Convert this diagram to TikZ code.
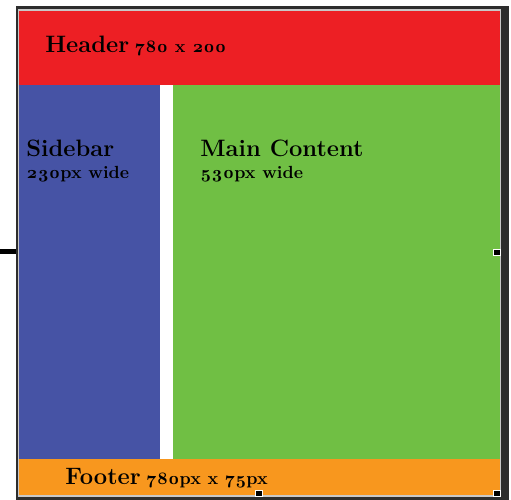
\documentclass[tikz,border=0pt]{standalone}
\usepackage{fontspec}
\setmainfont{Latin Modern Roman}[Numbers=OldStyle]
\definecolor{frame}{RGB}{45,45,45}
\definecolor{rim}{RGB}{200,200,200}
\definecolor{hdr}{RGB}{237,31,36}
\definecolor{side}{RGB}{70,83,165}
\definecolor{main}{RGB}{112,191,68}
\definecolor{foot}{RGB}{248,151,30}
\newcommand{\ttl}[1]{{\fontsize{13.5}{15}\selectfont\bfseries #1}}
\newcommand{\sub}[1]{{\fontsize{10}{12}\selectfont\bfseries #1}}

\begin{document}
\begin{tikzpicture}[x=0.02cm,y=-0.02cm]
\tikzset{lbl/.style={anchor=base west,inner sep=0pt},
  handle/.style={draw=white,fill=black,line width=0.4pt,minimum size=0.13cm,inner sep=0pt}}
      \useasboundingbox (0,0) rectangle (511,500);
      \fill[white] (0,0) rectangle (511,500);
      \fill[frame] (16,6) rectangle (509,500);
      \fill[rim] (18,9) rectangle (501,497);
      \fill[hdr] (19,11) rectangle (500,85);
      \fill[side] (19,85) rectangle (160,459);
      \fill[white] (160,85) rectangle (173,459);
      \fill[main] (173,85) rectangle (500,459);
      \fill[foot] (19,459) rectangle (500,495);
      \fill[black] (0,249) rectangle (16,254);
      \node[lbl](H) at (45,53) {\ttl{Header} \sub{780 x 200}};
      \node[lbl](S) at (26,157) {\ttl{Sidebar}};
      \node[lbl](SW) at (26,179) {\sub{230px wide}};
      \node[lbl](M) at (200,157) {\ttl{Main Content}};
      \node[lbl](MW) at (200,179) {\sub{530px wide}};
      \node[lbl](F) at (65,484) {\ttl{Footer} \sub{780px x 75px}};
      \node[handle](hR) at (497,252.5) {};
      \node[handle](hB) at (259,493.5) {};
      \node[handle](hBR) at (497,493.5) {};
    \end{tikzpicture}
\end{document}
